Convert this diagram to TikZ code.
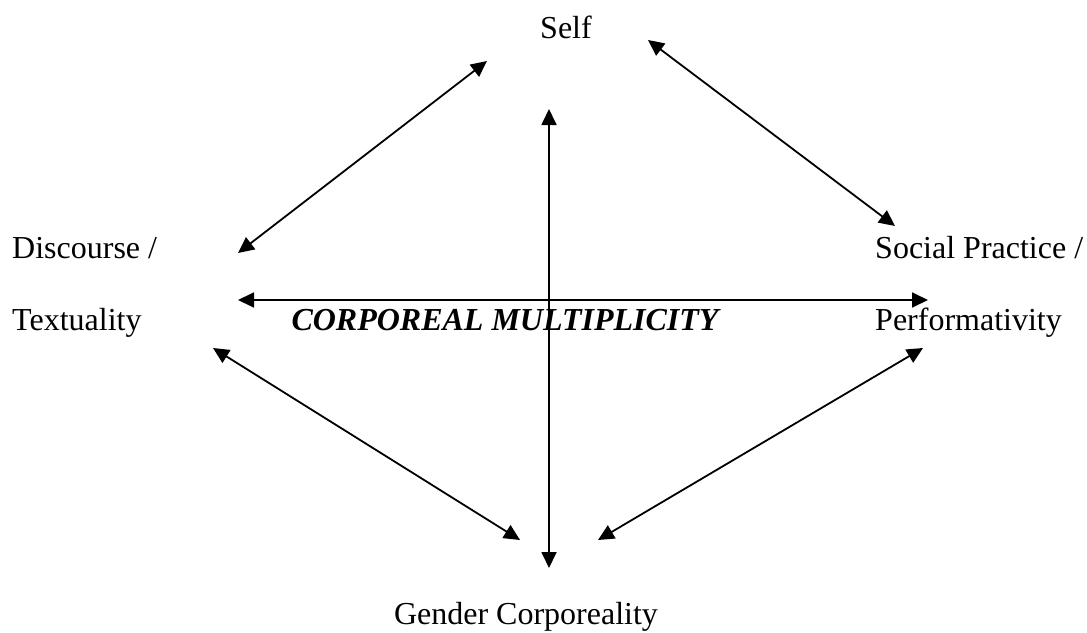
\documentclass[tikz,border=0pt]{standalone}
\usepackage{fontspec}
\setmainfont{Liberation Serif}
\usetikzlibrary{arrows.meta,positioning}

\begin{document}
\begin{tikzpicture}
[x=1pt,y=-1pt,
term/.style={inner sep=0pt,font=\fontsize{32}{36}\selectfont},
core/.style={term,font=\fontsize{32}{36}\selectfont\bfseries\itshape},
both/.style={{Triangle[length=16pt,width=15pt]}-{Triangle[length=16pt,width=15pt]},line width=1.8pt}]
\useasboundingbox (0,0) rectangle (1087,632);

% labels
\node [term,anchor=base] (self) at (566,38) {Self};
\node [term,anchor=base west] (disc) at (12,258) {Discourse /};
\node [term,anchor=base west] (text) at (12,330) {Textuality};
\node [term,anchor=base west] (soc) at (875,258) {Social Practice /};
\node [term,anchor=base west] (perf) at (875,330) {Performativity};
\node [term,anchor=base] (gen) at (526,624) {Gender Corporeality};
\node [core,anchor=base] (cm) at (505,330) {CORPOREAL MULTIPLICITY};

% arrow ends
\coordinate (s1) at (487,61);
\coordinate (d1) at (238,253);
\coordinate (s2) at (648,40);
\coordinate (p1) at (895,226);
\coordinate (h1) at (238,300);
\coordinate (h2) at (928,300);
\coordinate (v1) at (549,109);
\coordinate (v2) at (549,568);
\coordinate (t1) at (213,348);
\coordinate (g1) at (520,540);
\coordinate (p2) at (923,348);
\coordinate (g2) at (598,540);

\draw [both] (s1) -- (d1);
\draw [both] (s2) -- (p1);
\draw [both] (h1) -- (h2);
\draw [both] (v1) -- (v2);
\draw [both] (t1) -- (g1);
\draw [both] (p2) -- (g2);
\end{tikzpicture}
\end{document}
